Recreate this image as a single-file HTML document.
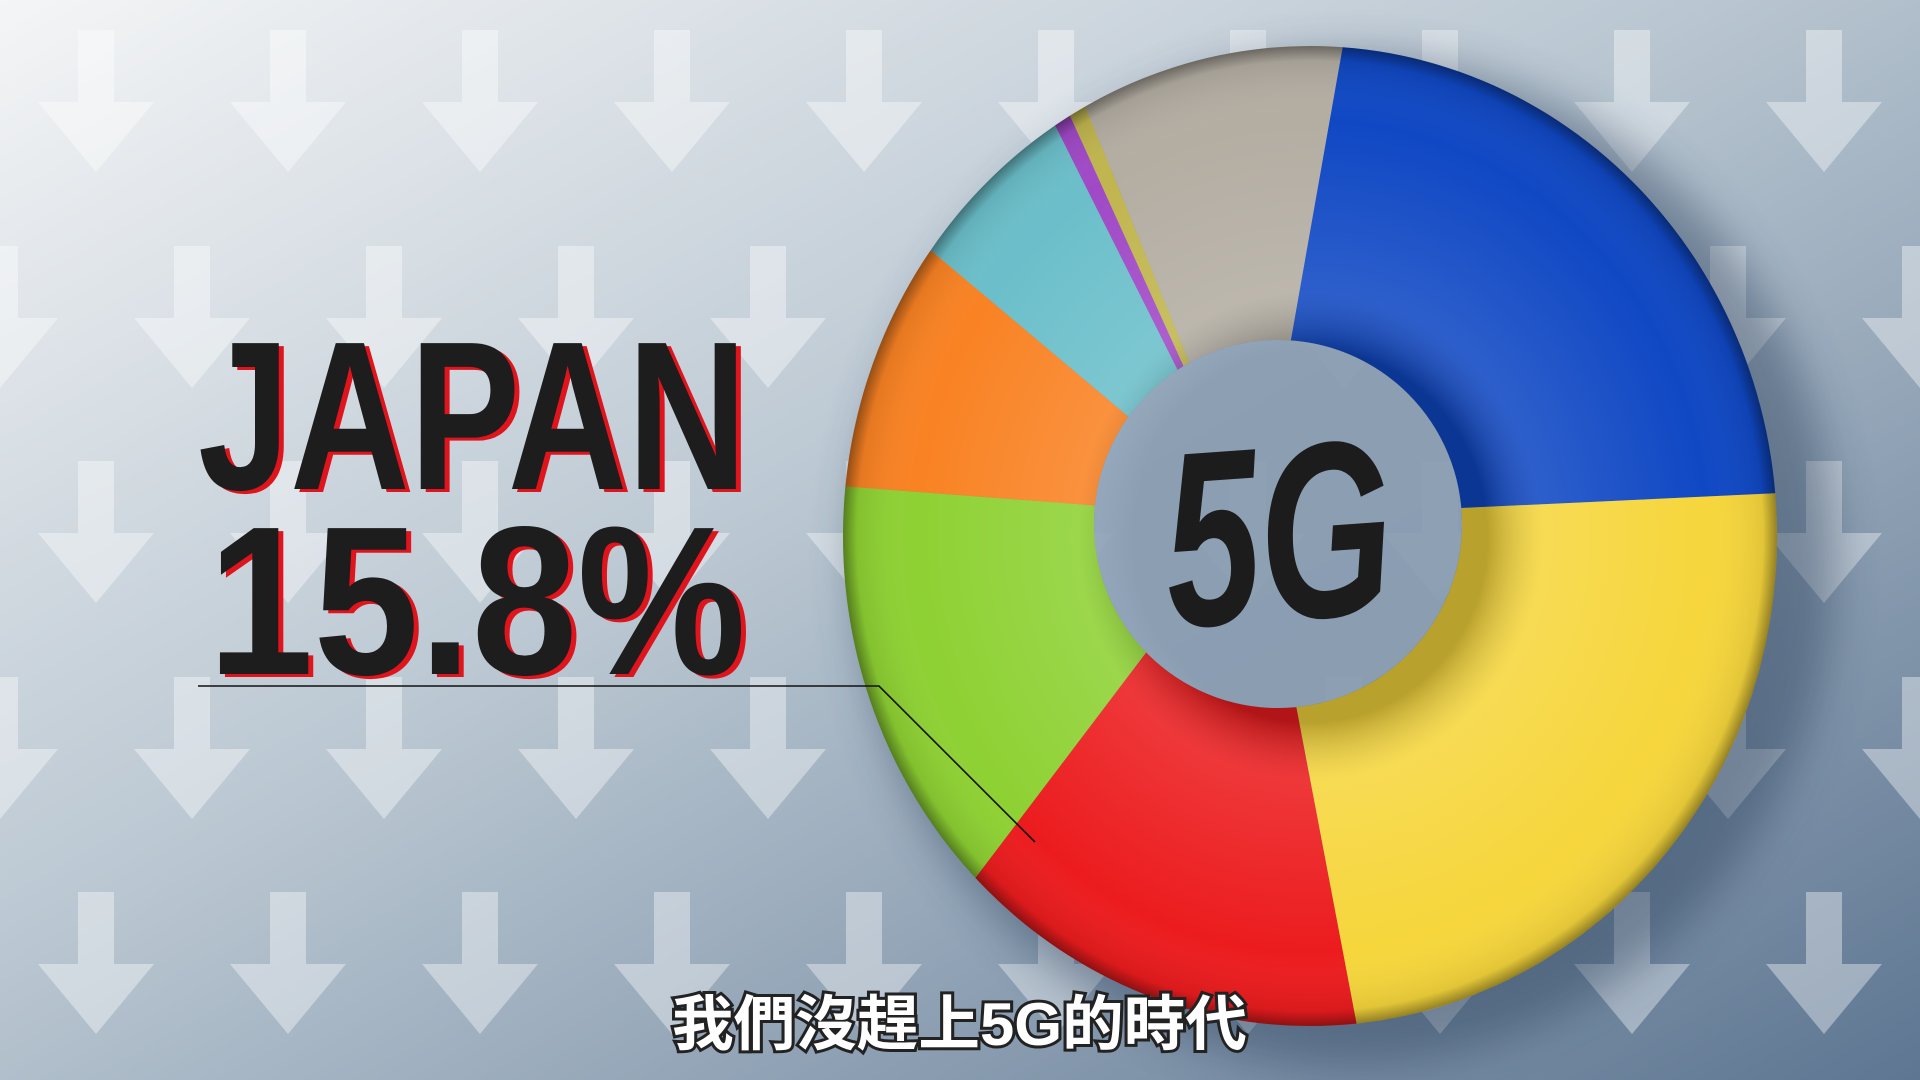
<!DOCTYPE html>
<html><head><meta charset="utf-8">
<style>
html,body{margin:0;padding:0;width:1920px;height:1080px;overflow:hidden;background:#c8d2dc}
svg{display:block}
</style></head>
<body>
<svg id="chart" width="1920" height="1080" viewBox="0 0 1920 1080" xmlns="http://www.w3.org/2000/svg">
<defs>
<linearGradient id="bg" x1="0" y1="0" x2="1" y2="1">
<stop offset="0" stop-color="#f4f5f6"/>
<stop offset="0.45" stop-color="#b9c6d1"/>
<stop offset="1" stop-color="#5e7692"/>
</linearGradient>
<pattern id="arrows" patternUnits="userSpaceOnUse" width="192" height="431" x="0" y="0">
<g fill="#ffffff" opacity="0.38">
<path d="M78,30 h36 v72 h40 l-58,70 l-58,-70 h40z"/>
<path d="M-18,246 h36 v72 h40 l-58,70 l-58,-70 h40z"/>
<path d="M174,246 h36 v72 h40 l-58,70 l-58,-70 h40z"/>
</g>
</pattern>
<radialGradient id="shade" cx="0.5" cy="0.5" r="0.5">
<stop offset="0.38" stop-color="#000" stop-opacity="0.25"/>
<stop offset="0.5" stop-color="#fff" stop-opacity="0.12"/>
<stop offset="0.85" stop-color="#fff" stop-opacity="0"/>
<stop offset="0.97" stop-color="#000" stop-opacity="0.08"/>
<stop offset="1" stop-color="#000" stop-opacity="0.4"/>
</radialGradient>
<filter id="blur" x="-20%" y="-20%" width="140%" height="140%"><feGaussianBlur stdDeviation="22"/></filter>
</defs>
<rect width="1920" height="1080" fill="url(#bg)"/>
<rect width="1920" height="1080" fill="url(#arrows)"/>
<ellipse cx="1345" cy="560" rx="490" ry="505" fill="#2a3f5c" opacity="0.45" filter="url(#blur)"/>
<g id="slices"></g>
<ellipse cx="1310" cy="536" rx="467" ry="490" fill="url(#shade)" pointer-events="none"/>
<circle cx="1278" cy="524" r="184" fill="#9aaec3" opacity="0.8"/>
<text x="1163" y="620" font-family="'Liberation Sans Narrow','Liberation Sans',sans-serif" font-weight="bold" font-style="italic" font-size="250" fill="#1c1c1c" textLength="228" lengthAdjust="spacingAndGlyphs" transform="rotate(-4 1276 520)">5G</text>

<g font-family="'Liberation Sans Narrow','Liberation Sans',sans-serif" font-weight="bold">
<text x="203" y="492" font-size="212" fill="#e0141c" textLength="549" lengthAdjust="spacingAndGlyphs">JAPAN</text>
<text x="198" y="489" font-size="212" fill="#1d1d1d" textLength="549" lengthAdjust="spacingAndGlyphs">JAPAN</text>
<text x="213" y="677" font-size="212" fill="#e0141c" textLength="538" lengthAdjust="spacingAndGlyphs">15.8%</text>
<text x="208" y="674" font-size="212" fill="#1d1d1d" textLength="538" lengthAdjust="spacingAndGlyphs">15.8%</text>
</g>
<polyline points="198,686 879,686 1035,842" fill="none" stroke="#111" stroke-width="1.6"/>
<text x="672" y="1045" font-family="'Liberation Sans','Noto Sans CJK TC',sans-serif" font-size="60" font-weight="bold" fill="#fff" stroke="#222" stroke-width="6" paint-order="stroke" textLength="575" lengthAdjust="spacingAndGlyphs">我們沒趕上5G的時代</text>
</svg>
<script>
const categories = ["blue","yellow","red","green","orange","cyan","purple","olive","gray"];
const shareValues = [22.5, 24.8, 14.3, 13.9, 8.3, 5.9, 0.6, 0.6, 9.1];
const sliceColors = ["#1048c4","#f6d63c","#ec1c1e","#8ed133","#f98223","#6bbfca","#a049c6","#c0b54e","#b3ada2"];
const startAngle = 4;
const cx = 1310, cy = 536, rx = 467, ry = 490, icx = 1278, icy = 524, ir = 184;
const total = shareValues.reduce((a,b)=>a+b,0);
function angleScale(v){ return v / total * 360; }
function pt(x0,y0,ax,ay,deg){ const r = deg*Math.PI/180; return [x0+ax*Math.sin(r), y0-ay*Math.cos(r)]; }
const g = document.getElementById('slices');
let a = startAngle;
shareValues.forEach((v,i)=>{
  const a0 = a, a1 = a + angleScale(v); a = a1;
  const pts = [];
  const n = Math.max(4, Math.ceil((a1-a0)/1.5));
  for(let k=0;k<=n;k++) pts.push(pt(cx,cy,rx,ry,a0+(a1-a0)*k/n));
  for(let k=n;k>=0;k--) pts.push(pt(icx,icy,ir,ir,a0+(a1-a0)*k/n));
  const p = document.createElementNS('http://www.w3.org/2000/svg','path');
  p.setAttribute('d','M'+pts.map(q=>q[0].toFixed(1)+','+q[1].toFixed(1)).join(' L')+' Z');
  p.setAttribute('fill',sliceColors[i]);
  
  
  g.appendChild(p);
});
</script>
</body></html>
